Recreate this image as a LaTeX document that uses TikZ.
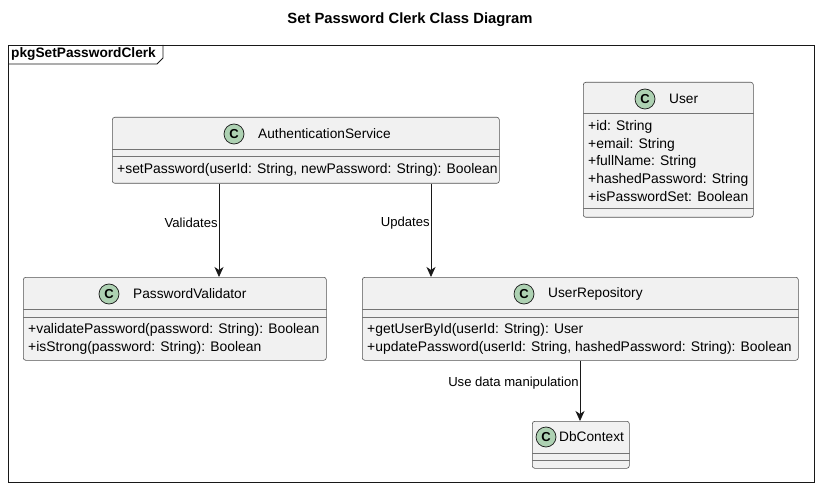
\documentclass[tikz,border=0pt]{standalone}
\usepackage{fontspec}
\setmainfont{Liberation Sans}
\usetikzlibrary{arrows.meta}

\definecolor{boxfill}{HTML}{F1F1F1}
\definecolor{linec}{HTML}{181818}
\definecolor{iconfill}{HTML}{ADD1B2}

\begin{document}
\begin{tikzpicture}[
    x=1pt, y=-1pt,
    cls/.style={draw=linec!75, line width=0.6pt, fill=boxfill, rounded corners=2.5pt,
        inner sep=0pt, anchor=north west},
    cicon/.style={circle, draw=linec, line width=0.7pt, fill=iconfill, minimum size=20pt,
        inner sep=0pt, font=\bfseries\fontsize{13}{13}\selectfont},
    cname/.style={anchor=west, inner sep=0pt, font=\fontsize{13.7}{16}\selectfont},
    member/.style={anchor=west, inner sep=0pt, font=\fontsize{13.9}{16}\selectfont},
    sep/.style={draw=linec!60, line width=0.5pt},
    lbl/.style={anchor=east, inner sep=1pt, font=\fontsize{13.1}{15}\selectfont},
    link/.style={draw=linec, line width=0.8pt,
        -{Stealth[length=10pt, width=9pt, inset=3pt]}}
]
    \useasboundingbox (0,0) rectangle (819,489);

    % title
    \node[font=\bfseries\fontsize{14.8}{17}\selectfont] (title) at (410,20)
        {Set Password Clerk Class Diagram};

    % package frame
    \node[draw=linec, line width=0.9pt, minimum width=806pt, minimum height=437pt,
        inner sep=0pt, anchor=north west] (pkg) at (8,45) {};
    \node[anchor=west, inner sep=0pt, font=\bfseries\fontsize{13.7}{16}\selectfont]
        (pkgname) at (11,54) {pkgSetPasswordClerk};
    \draw[draw=linec, line width=0.9pt] (pkg.north west |- 0,64) -- (157,64)
        -- (163,58) -- (163,45);

    % AuthenticationService
    \node[cls, minimum width=387pt, minimum height=66pt] (auth) at (112,117) {};
    \draw[sep] ([yshift=-32pt]auth.north west) -- ([yshift=-32pt]auth.north east);
    \draw[sep] ([yshift=-39pt]auth.north west) -- ([yshift=-39pt]auth.north east);
    \node[cicon] (authicon) at (234,134) {C};
    \node[cname] (authname) at (258,134) {AuthenticationService};
    \node[member] (authm1) at (117,170)
        {+setPassword(userId: String, newPassword: String): Boolean};

    % User
    \node[cls, minimum width=170pt, minimum height=135pt] (user) at (583,82) {};
    \draw[sep] ([yshift=-31pt]user.north west) -- ([yshift=-31pt]user.north east);
    \draw[sep] ([yshift=-126pt]user.north west) -- ([yshift=-126pt]user.north east);
    \node[cicon] (usericon) at (645,99) {C};
    \node[cname] (username) at (669,99) {User};
    \foreach \txt [count=\i] in {+id: String, +email: String, +fullName: String,
        +hashedPassword: String, +isPasswordSet: Boolean}
        \node[member] (userm\i) at (588,{109.5+17.5*\i}) {\txt};

    % PasswordValidator
    \node[cls, minimum width=303pt, minimum height=83pt] (pv) at (23,277) {};
    \draw[sep] ([yshift=-32pt]pv.north west) -- ([yshift=-32pt]pv.north east);
    \draw[sep] ([yshift=-40pt]pv.north west) -- ([yshift=-40pt]pv.north east);
    \node[cicon] (pvicon) at (109,294) {C};
    \node[cname] (pvname) at (133,294) {PasswordValidator};
    \node[member] (pvm1) at (28,330) {+validatePassword(password: String): Boolean};
    \node[member] (pvm2) at (28,348) {+isStrong(password: String): Boolean};

    % UserRepository
    \node[cls, minimum width=436pt, minimum height=83pt] (repo) at (362,277) {};
    \draw[sep] ([yshift=-32pt]repo.north west) -- ([yshift=-32pt]repo.north east);
    \draw[sep] ([yshift=-40pt]repo.north west) -- ([yshift=-40pt]repo.north east);
    \node[cicon] (repoicon) at (524,294) {C};
    \node[cname] (reponame) at (548,294) {UserRepository};
    \node[member] (repom1) at (367,330) {+getUserById(userId: String): User};
    \node[member] (repom2) at (367,348)
        {+updatePassword(userId: String, hashedPassword: String): Boolean};

    % DbContext
    \node[cls, minimum width=97pt, minimum height=47pt] (db) at (532,421) {};
    \draw[sep] ([yshift=-32pt]db.north west) -- ([yshift=-32pt]db.north east);
    \draw[sep] ([yshift=-39pt]db.north west) -- ([yshift=-39pt]db.north east);
    \node[cicon] (dbicon) at (546,437) {C};
    \node[cname] (dbname) at (559,437) {DbContext};

    % links
    \draw[link] ([xshift=107pt]auth.south west) -- ([xshift=196pt]pv.north west)
        node[lbl, pos=0.42] {Validates};
    \draw[link] ([xshift=319pt]auth.south west) -- ([xshift=69pt]repo.north west)
        node[lbl, pos=0.42] {Updates};
    \draw[link] ([xshift=218pt]repo.south west) -- ([xshift=48pt]db.north west)
        node[lbl, pos=0.38] {Use data manipulation};
\end{tikzpicture}
\end{document}
